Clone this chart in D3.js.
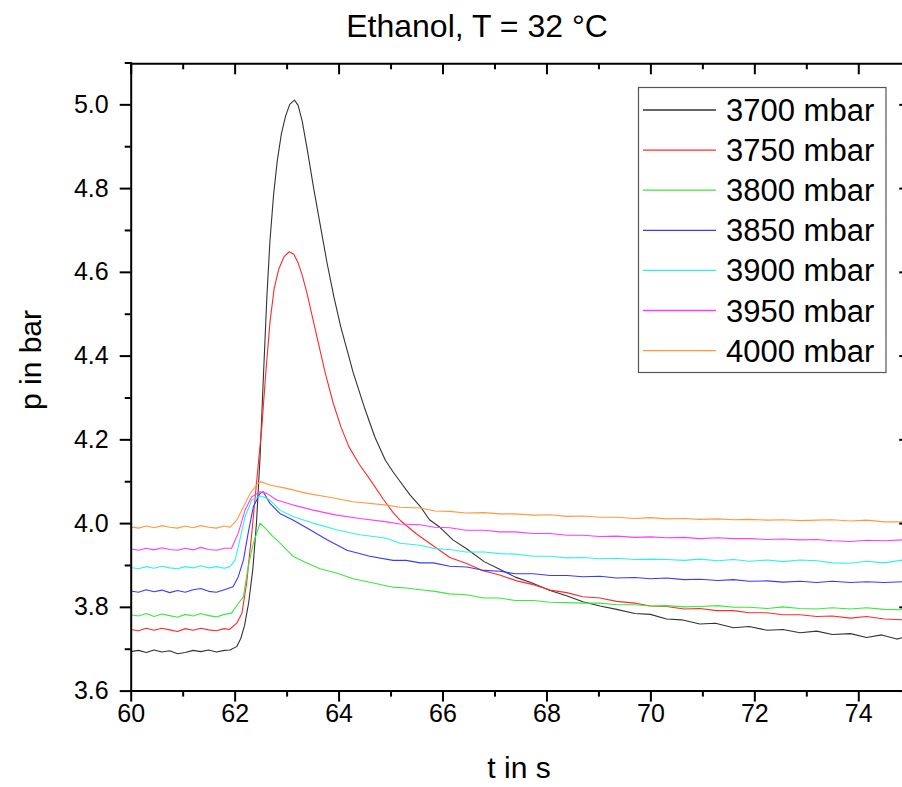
<!DOCTYPE html>
<html><head><meta charset="utf-8">
<script src="https://cdn.jsdelivr.net/npm/d3@7/dist/d3.min.js"></script>
<style>
body{margin:0;background:#fff;}
svg{display:block;font-family:"Liberation Sans",Arial,sans-serif;}
</style></head>
<body><svg id="c" width="902" height="787"></svg>
<script>
const title = "Ethanol, T = 32 °C";
const xLabel = "t in s";
const yLabel = "p in bar";
const seriesNames = ["3700 mbar","3750 mbar","3800 mbar","3850 mbar","3900 mbar","3950 mbar","4000 mbar"];
const seriesColors = ["#333333","#ff2a2a","#3be83b","#3a3aff","#2ef0f0","#ff3cff","#ff9a3c"];
const xTicks = [60,62,64,66,68,70,72,74];
const yTicks = [3.6,3.8,4.0,4.2,4.4,4.6,4.8,5.0];

const s3700 = [[60.0,3.693],[60.15,3.696],[60.3,3.691],[60.45,3.697],[60.6,3.692],[60.75,3.695],[60.9,3.688],[61.05,3.691],[61.2,3.696],[61.35,3.693],[61.5,3.697],[61.65,3.692],[61.8,3.696],[61.91,3.697],
[62.04,3.705],[62.12,3.725],[62.19,3.755],[62.27,3.81],[62.35,3.89],[62.42,4.0],[62.49,4.16],[62.55,4.34],[62.62,4.54],[62.68,4.675],[62.75,4.785],[62.82,4.865],[62.9,4.93],[62.98,4.972],[63.06,5.0],[63.15,5.010],[63.22,4.998],[63.3,4.96],[63.4,4.89],[63.52,4.80],[63.65,4.71],[63.78,4.62],[63.91,4.54],[64.04,4.47],[64.16,4.415],[64.28,4.36],
[64.5,4.275],[64.7,4.205],[64.9,4.15],[65.05,4.122],[65.18,4.100],[65.37,4.068],[65.57,4.040],[65.75,4.008],[65.95,3.990],[66.2,3.960],[66.47,3.938],[66.8,3.908],[67.1,3.890],[67.4,3.871],[67.7,3.858],[68.07,3.839],[68.4,3.826],[68.7,3.812],[69.03,3.802],[69.35,3.794],[69.7,3.784],[70.0,3.782],[70.31,3.771],[70.6,3.769],[70.95,3.759],[71.25,3.761],[71.6,3.750],[71.9,3.753],[72.25,3.744],[72.55,3.746],[72.88,3.738],[73.2,3.742],[73.5,3.734],[73.85,3.736],[74.16,3.727],[74.45,3.733],[74.74,3.723],[74.87,3.727]];

const s3750 = [[60.0,3.746],[60.15,3.743],[60.3,3.749],[60.45,3.744],[60.6,3.749],[60.75,3.745],[60.9,3.741],[61.05,3.748],[61.2,3.744],[61.35,3.749],[61.5,3.745],[61.65,3.743],[61.8,3.748],[61.9,3.746],
[62.04,3.761],[62.14,3.785],[62.23,3.856],[62.33,3.976],[62.42,4.095],[62.52,4.225],[62.6,4.36],[62.68,4.48],[62.76,4.56],[62.85,4.607],[62.95,4.636],[63.05,4.648],[63.14,4.642],[63.22,4.622],[63.3,4.592],[63.4,4.545],[63.5,4.49],[63.62,4.425],[63.75,4.355],[63.9,4.285],[64.05,4.228],[64.2,4.182],[64.4,4.14],[64.6,4.105],[64.86,4.057],[65.05,4.025],[65.2,4.005],[65.5,3.974],[65.82,3.946],[66.14,3.918],[66.45,3.904],[66.78,3.886],[67.1,3.876],[67.43,3.862],[67.75,3.853],[68.07,3.840],[68.39,3.834],[68.7,3.824],[69.03,3.821],[69.35,3.813],[69.7,3.809],[70.0,3.802],[70.31,3.801],[70.65,3.795],[70.95,3.796],[71.28,3.791],[71.6,3.791],[71.9,3.786],[72.24,3.786],[72.55,3.781],[72.88,3.781],[73.2,3.777],[73.5,3.778],[73.85,3.773],[74.16,3.777],[74.5,3.771],[74.87,3.769]];

const s3800 = [[60.0,3.781],[60.15,3.778],[60.3,3.784],[60.45,3.777],[60.6,3.783],[60.75,3.779],[60.9,3.775],[61.05,3.782],[61.2,3.778],[61.35,3.784],[61.5,3.779],[61.65,3.776],[61.8,3.782],[61.94,3.785],
[62.07,3.808],[62.17,3.824],[62.26,3.896],[62.36,3.952],[62.49,4.000],[62.62,3.984],[62.72,3.970],[62.81,3.960],[62.94,3.944],[63.13,3.920],[63.39,3.905],[63.64,3.891],[63.96,3.881],[64.28,3.867],[64.67,3.857],[65.05,3.847],[65.3,3.845],[65.57,3.841],[65.85,3.837],[66.14,3.831],[66.45,3.829],[66.8,3.821],[67.1,3.821],[67.4,3.815],[67.75,3.815],[68.07,3.811],[68.4,3.810],[68.7,3.809],[69.03,3.809],[69.35,3.805],[69.7,3.805],[70.0,3.802],[70.31,3.803],[70.65,3.800],[70.95,3.801],[71.3,3.803],[71.6,3.799],[71.9,3.799],[72.25,3.796],[72.55,3.800],[72.88,3.796],[73.2,3.795],[73.5,3.798],[73.85,3.795],[74.16,3.798],[74.5,3.794],[74.87,3.793]];

const s3850 = [[60.0,3.838],[60.15,3.835],[60.3,3.841],[60.45,3.836],[60.6,3.840],[60.75,3.834],[60.9,3.839],[61.05,3.835],[61.2,3.841],[61.35,3.844],[61.5,3.837],[61.65,3.835],[61.8,3.841],[61.97,3.848],
[62.07,3.872],[62.17,3.912],[62.26,3.976],[62.36,4.039],[62.49,4.071],[62.55,4.075],[62.68,4.047],[62.87,4.023],[63.13,4.007],[63.45,3.984],[63.77,3.961],[64.16,3.935],[64.6,3.921],[65.05,3.911],[65.3,3.911],[65.57,3.905],[65.82,3.905],[66.14,3.897],[66.47,3.895],[66.8,3.887],[67.1,3.885],[67.4,3.879],[67.75,3.879],[68.07,3.875],[68.4,3.875],[68.7,3.872],[69.03,3.873],[69.35,3.869],[69.7,3.870],[70.0,3.867],[70.31,3.869],[70.65,3.865],[70.95,3.866],[71.3,3.863],[71.6,3.865],[71.9,3.861],[72.25,3.862],[72.55,3.859],[72.88,3.861],[73.2,3.858],[73.5,3.861],[73.85,3.858],[74.16,3.860],[74.5,3.858],[74.87,3.860]];

const s3900 = [[60.0,3.894],[60.15,3.891],[60.3,3.896],[60.45,3.892],[60.6,3.897],[60.75,3.893],[60.9,3.891],[61.05,3.896],[61.2,3.893],[61.35,3.898],[61.5,3.893],[61.65,3.896],[61.8,3.892],[61.91,3.896],
[62.01,3.912],[62.1,3.960],[62.2,4.015],[62.33,4.055],[62.46,4.063],[62.55,4.063],[62.68,4.055],[62.87,4.031],[63.13,4.015],[63.51,4.000],[63.96,3.984],[64.41,3.972],[64.93,3.964],[65.18,3.952],[65.57,3.947],[65.85,3.939],[66.14,3.937],[66.45,3.931],[66.8,3.931],[67.1,3.927],[67.4,3.926],[67.75,3.921],[68.07,3.921],[68.4,3.917],[68.7,3.918],[69.03,3.915],[69.35,3.916],[69.7,3.913],[70.0,3.914],[70.31,3.913],[70.65,3.911],[70.95,3.914],[71.3,3.910],[71.6,3.913],[71.9,3.909],[72.25,3.912],[72.55,3.908],[72.88,3.912],[73.2,3.910],[73.5,3.905],[73.84,3.904],[74.16,3.909],[74.5,3.905],[74.87,3.912]];

const s3950 = [[60.0,3.938],[60.15,3.935],[60.3,3.940],[60.45,3.936],[60.6,3.941],[60.75,3.937],[60.9,3.935],[61.05,3.940],[61.2,3.936],[61.35,3.942],[61.5,3.937],[61.65,3.935],[61.8,3.940],[61.94,3.940],
[62.07,3.976],[62.2,4.031],[62.33,4.063],[62.49,4.075],[62.62,4.071],[62.81,4.055],[63.13,4.043],[63.51,4.031],[63.96,4.019],[64.41,4.011],[64.93,4.003],[65.18,3.998],[65.57,3.996],[65.85,3.990],[66.14,3.989],[66.45,3.983],[66.8,3.983],[67.1,3.979],[67.4,3.979],[67.75,3.975],[68.07,3.975],[68.4,3.971],[68.7,3.971],[69.03,3.968],[69.35,3.969],[69.7,3.966],[70.0,3.967],[70.31,3.965],[70.65,3.966],[70.95,3.963],[71.3,3.965],[71.6,3.963],[71.9,3.963],[72.25,3.961],[72.55,3.962],[72.88,3.960],[73.2,3.961],[73.5,3.958],[73.85,3.956],[74.16,3.959],[74.5,3.958],[74.87,3.960]];

const s4000 = [[60.0,3.991],[60.15,3.988],[60.3,3.993],[60.45,3.989],[60.6,3.994],[60.75,3.990],[60.9,3.988],[61.05,3.993],[61.2,3.989],[61.35,3.994],[61.5,3.990],[61.65,3.988],[61.8,3.993],[61.91,3.990],
[62.04,4.007],[62.17,4.039],[62.3,4.071],[62.42,4.091],[62.49,4.099],[62.68,4.091],[63.0,4.083],[63.39,4.071],[63.77,4.063],[64.28,4.051],[64.93,4.043],[65.18,4.038],[65.57,4.036],[65.85,4.029],[66.14,4.028],[66.45,4.024],[66.8,4.025],[67.1,4.022],[67.4,4.022],[67.75,4.019],[68.07,4.020],[68.4,4.016],[68.7,4.017],[69.03,4.014],[69.35,4.014],[69.7,4.011],[70.0,4.013],[70.31,4.010],[70.65,4.011],[70.95,4.009],[71.3,4.010],[71.6,4.008],[71.9,4.009],[72.25,4.007],[72.55,4.008],[72.88,4.006],[73.2,4.007],[73.5,4.008],[73.85,4.005],[74.16,4.007],[74.5,4.003],[74.87,4.003]];

const seriesData = [s3700,s3750,s3800,s3850,s3900,s3950,s4000];

const svg = d3.select("#c");
const L = 130.7, T = 63.3, B = 690.6;
const x = d3.scaleLinear().domain([60,75]).range([L, L + 15*51.97]);
const y = d3.scaleLinear().domain([3.6,5.1]).range([B, B - 1.5*418.75]);
const R = x(75);

svg.append("defs").append("clipPath").attr("id","clip")
  .append("rect").attr("x",L).attr("y",T).attr("width",R-L).attr("height",B-T);

const line = d3.line().x(d=>x(d[0])).y(d=>y(d[1]));
const g = svg.append("g").attr("clip-path","url(#clip)");
seriesData.forEach((s,i)=>{
  g.append("path").datum(s).attr("d",line).attr("fill","none")
   .attr("stroke",seriesColors[i]).attr("stroke-width",1.1).attr("stroke-linejoin","round");
});

const xMinor = d3.range(61,76,2);
const yMinor = [3.7,3.9,4.1,4.3,4.5,4.7,4.9,5.1];

function styleAxis(sel){
  sel.select(".domain").attr("stroke","#000").attr("stroke-width",2);
  sel.selectAll(".tick line").attr("stroke","#000").attr("stroke-width",2);
}
// bottom
const bx = svg.append("g").attr("transform",`translate(0,${B})`)
  .call(d3.axisBottom(x).tickValues(xTicks).tickSize(11).tickSizeOuter(0).tickFormat(d3.format("d")));
styleAxis(bx);
bx.selectAll(".tick text").attr("font-size",25).attr("fill","#000").attr("y",14).attr("dy","0.71em");
svg.append("g").attr("transform",`translate(0,${B})`)
  .call(d3.axisBottom(x).tickValues(xMinor).tickSize(6).tickFormat(""))
  .call(s=>{s.select(".domain").remove(); s.selectAll(".tick line").attr("stroke","#000").attr("stroke-width",2);});
// top
const tx = svg.append("g").attr("transform",`translate(0,${T})`)
  .call(d3.axisBottom(x).tickValues(xTicks).tickSize(11).tickSizeOuter(0).tickFormat(""));
styleAxis(tx);
svg.append("g").attr("transform",`translate(0,${T})`)
  .call(d3.axisBottom(x).tickValues(xMinor).tickSize(6).tickFormat(""))
  .call(s=>{s.select(".domain").remove(); s.selectAll(".tick line").attr("stroke","#000").attr("stroke-width",2);});
// left
const ly = svg.append("g").attr("transform",`translate(${L},0)`)
  .call(d3.axisLeft(y).tickValues(yTicks).tickSize(11).tickSizeOuter(0).tickFormat(d3.format(".1f")));
styleAxis(ly);
ly.selectAll(".tick text").attr("font-size",25).attr("fill","#000").attr("x",-22);
svg.append("g").attr("transform",`translate(${L},0)`)
  .call(d3.axisLeft(y).tickValues(yMinor).tickSize(6).tickFormat(""))
  .call(s=>{s.select(".domain").remove(); s.selectAll(".tick line").attr("stroke","#000").attr("stroke-width",2);});
// right
const ry = svg.append("g").attr("transform",`translate(${R},0)`)
  .call(d3.axisLeft(y).tickValues(yTicks).tickSize(11).tickSizeOuter(0).tickFormat(""));
styleAxis(ry);
svg.append("g").attr("transform",`translate(${R},0)`)
  .call(d3.axisLeft(y).tickValues(yMinor).tickSize(6).tickFormat(""))
  .call(s=>{s.select(".domain").remove(); s.selectAll(".tick line").attr("stroke","#000").attr("stroke-width",2);});
svg.selectAll(".domain").attr("stroke-linecap","square");

// titles
svg.append("text").attr("x",477).attr("y",37).attr("text-anchor","middle")
  .attr("font-size",32).text(title);
svg.append("text").attr("x",519).attr("y",778).attr("text-anchor","middle")
  .attr("font-size",30).text(xLabel);
svg.append("text").attr("transform","translate(41,360) rotate(-90)").attr("text-anchor","middle")
  .attr("font-size",30).text(yLabel);

// legend
const lg = svg.append("g");
lg.append("rect").attr("x",638.5).attr("y",87.5).attr("width",247.5).attr("height",285)
  .attr("fill","#fff").attr("stroke","#555").attr("stroke-width",1.2);
seriesNames.forEach((n,i)=>{
  const yy = 110 + i*40.1;
  lg.append("line").attr("x1",643).attr("x2",716).attr("y1",yy).attr("y2",yy)
    .attr("stroke",seriesColors[i]).attr("stroke-width",1.3);
  lg.append("text").attr("x",726).attr("y",yy+11).attr("font-size",31).text(n);
});
</script></body></html>
